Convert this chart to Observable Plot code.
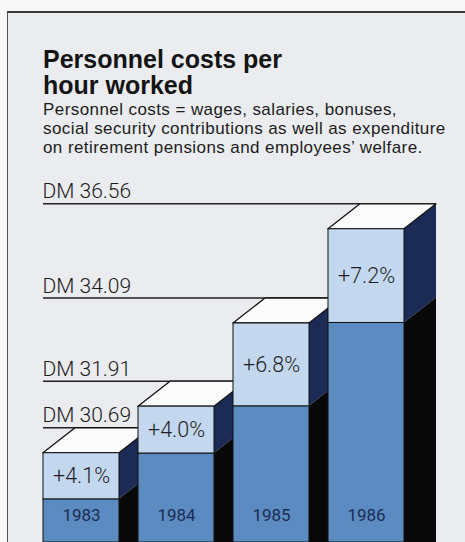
<!DOCTYPE html>
<html>
<head>
<meta charset="utf-8">
<script src="https://cdn.jsdelivr.net/npm/d3@7"></script>
<script src="https://cdn.jsdelivr.net/npm/@observablehq/plot@0.6"></script>
<style>
  html, body { margin: 0; padding: 0; background: #f8f8f8; }
  #wrap { position: relative; width: 465px; height: 542px; overflow: hidden; background: #f8f8f8; }
  #panel { position: absolute; left: 7px; top: 11px; right: -4px; bottom: -4px;
           background: #eaecef; border-top: 2px solid #3a3a3a; border-left: 1.5px solid #555; }
  #title { position: absolute; left: 43px; top: 46px; margin: 0;
           font: bold 25px "Liberation Sans", Arial, sans-serif; line-height: 26px; color: #141414; }
  #subtitle { position: absolute; left: 43px; top: 99.6px; margin: 0;
              font: 17px "Liberation Sans", Arial, sans-serif; line-height: 19px; letter-spacing: 0.42px; color: #1c1c1c; }
  #chart { position: absolute; left: 0; top: 160px; }
</style>
</head>
<body>
<div id="wrap">
  <div id="panel"></div>
  <h1 id="title">Personnel costs per<br>hour worked</h1>
  <p id="subtitle">Personnel costs = wages, salaries, bonuses,<br>social security contributions as well as expenditure<br>on retirement pensions and employees’ welfare.</p>
  <div id="chart"></div>
</div>
<script>
// ---- data ----
const years = ["1983", "1984", "1985", "1986"];
const costs = [30.69, 31.91, 34.09, 36.56];          // DM per hour worked
const growthPct = [4.1, 4.0, 6.8, 7.2];              // increase on previous year
const growthLabels = ["+4.1%", "+4.0%", "+6.8%", "+7.2%"];
const levelLabels = ["DM 30.69", "DM 31.91", "DM 34.09", "DM 36.56"];

const rows = years.map((year, i) => ({
  year,
  cost: costs[i],
  prev: costs[i] / (1 + growthPct[i] / 100),
  growth: growthLabels[i],
  level: levelLabels[i]
}));

// ---- layout ----
const W = 465, H = 382;
const yDomain = [28.35, 37];
const yRange = [382, 52];
const xRange = [43, 404];
const depthX = 32, depthY = -25;   // 3D extrusion offset in pixels

const colLight = "#c3d8ee", colDark = "#5b8bc0", colNavy = "#1c2b55", colShadow = "#080808";

function bwOf(x) { return typeof x.bandwidth === "function" ? x.bandwidth() : x.bandwidth; }

// level lines (drawn behind the solids)
function levelLines(index, scales) {
  const {x, y} = scales;
  const bw = bwOf(x);
  const g = d3.create("svg:g");
  for (const d of rows) {
    const yy = y(d.cost) + depthY;
    g.append("line")
      .attr("x1", x(years[0])).attr("x2", x(d.year) + bw + depthX)
      .attr("y1", yy).attr("y2", yy)
      .attr("stroke", "#222").attr("stroke-width", 1.6);
  }
  return g.node();
}

// side and top faces of the bars
function solids(index, scales) {
  const {x, y} = scales;
  const bw = bwOf(x);
  const bottom = y(yDomain[0]);
  const g = d3.create("svg:g");
  for (const d of rows) {
    const x0 = x(d.year), x1 = x0 + bw;
    const yT = y(d.cost), yB = y(d.prev);
    g.append("polygon")
      .attr("points", [[x1, yT], [x1 + depthX, yT + depthY], [x1 + depthX, yB + depthY], [x1, yB]].join(" "))
      .attr("fill", colNavy);
    g.append("polygon")
      .attr("points", [[x1, yB], [x1 + depthX, yB + depthY], [x1 + depthX, bottom + 5], [x1, bottom + 5]].join(" "))
      .attr("fill", colShadow);
    g.append("polygon")
      .attr("points", [[x0, yT], [x1, yT], [x1 + depthX, yT + depthY], [x0 + depthX, yT + depthY]].join(" "))
      .attr("fill", "#fbfbfb").attr("stroke", "#111").attr("stroke-width", 1.3).attr("stroke-linejoin", "round");
  }
  return g.node();
}

const chart = Plot.plot({
  width: W,
  height: H,
  margin: 0,
  style: {background: "transparent", fontFamily: "Roboto, 'Liberation Sans', sans-serif", overflow: "visible"},
  x: {domain: years, range: xRange, paddingInner: 0.2, paddingOuter: 0, axis: null},
  y: {domain: yDomain, range: yRange, axis: null},
  marks: [
    levelLines,
    solids,
    Plot.barY(rows, {x: "year", y1: () => yDomain[0], y2: "prev", fill: colDark, stroke: "#111", strokeWidth: 1}),
    Plot.barY(rows, {x: "year", y1: "prev", y2: "cost", fill: colLight, stroke: "#111", strokeWidth: 1}),
    Plot.text(rows, {
      y: "cost", text: "level", frameAnchor: "left", textAnchor: "start",
      dx: xRange[0] - 1, dy: depthY - 6, lineAnchor: "bottom",
      fontSize: 21, fontWeight: 300, fill: "#1a1a1a"
    }),
    Plot.text(rows, {
      x: "year", y: d => (d.cost + d.prev) / 2, text: "growth",
      fontSize: 21.5, fontWeight: 300, fill: "#1e1e24"
    }),
    Plot.text(rows, {
      x: "year", text: "year", frameAnchor: "bottom", dy: -27, lineAnchor: "middle",
      fontSize: 17, fontWeight: 400, fill: colNavy
    })
  ]
});
document.getElementById("chart").appendChild(chart);
</script>
</body>
</html>
